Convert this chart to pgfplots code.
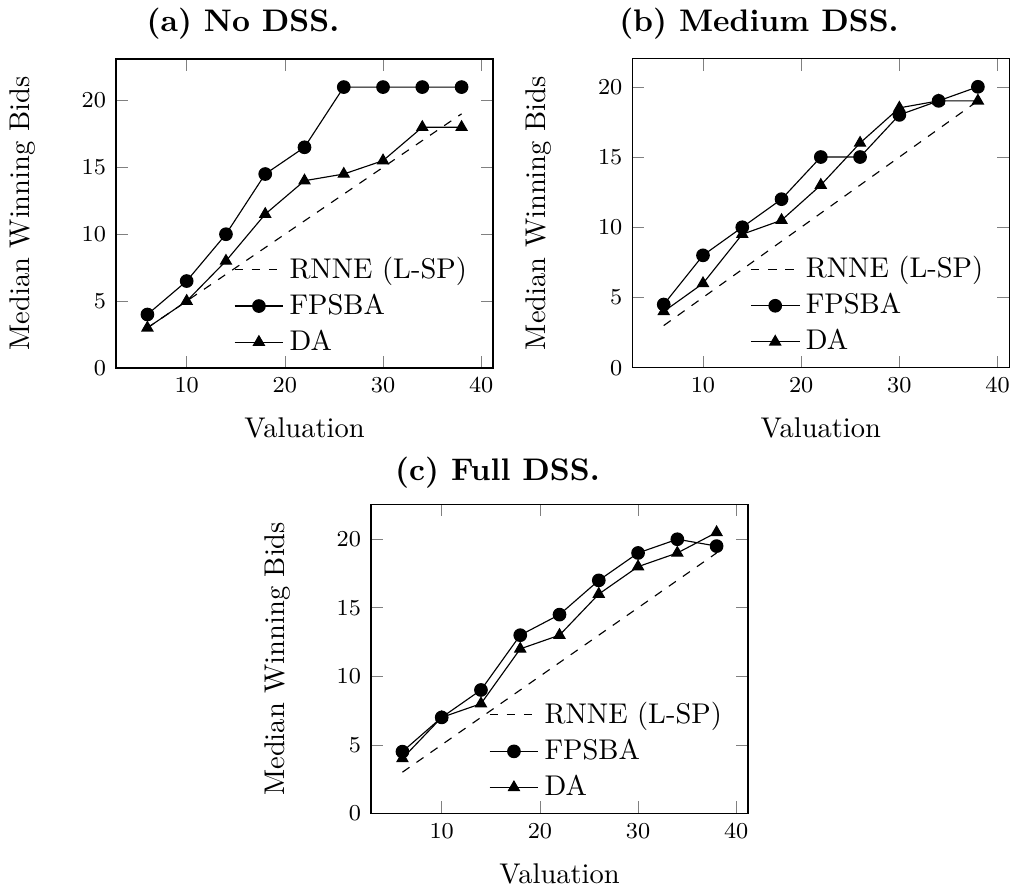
\documentclass[border=0pt]{standalone}
\usepackage{pgfplots}
\pgfplotsset{compat=1.18}
\begin{document}
\begin{tikzpicture}
\pgfplotsset{
  myax/.style={
    scale only axis,
    width=132.28pt, height=108.42pt,
    anchor=south west,
    xmin=2.8, xmax=41.2, ymin=0,
    xtick={10,20,30,40}, ytick={0,5,10,15,20},
    tick label style={font=\footnotesize},
    xlabel={Valuation},
    ylabel={Median Winning Bids},
    ylabel shift=9.5pt,
    xlabel shift=2pt,
    legend style={draw=none, fill=none, at={(0.97,0.005)}, anchor=south east},
    legend cell align=left,
  },
  rnne/.style={black, dashed, no marks},
  fp/.style={black, mark=*, mark size=2.2pt, mark options={solid}},
  da/.style={black, mark=triangle*, mark size=2.2pt, mark options={solid}},
}
% (a)
\begin{axis}[myax, at={(40.70pt,-129.12pt)}, ymax=23.1]
\addplot[rnne] coordinates {(6,3) (10,5) (14,7) (18,9) (22,11) (26,13) (30,15) (34,17) (38,19)};
\addlegendentry{RNNE (L-SP)}
\addplot[fp] coordinates {(6,4) (10,6.5) (14,10) (18,14.5) (22,16.5) (26,21) (30,21) (34,21) (38,21)};
\addlegendentry{FPSBA}
\addplot[da] coordinates {(6,3) (10,5) (14,8) (18,11.5) (22,14) (26,14.5) (30,15.5) (34,18) (38,18)};
\addlegendentry{DA}
\end{axis}
% (b)
\begin{axis}[myax, at={(221.86pt,-129.02pt)}, ymax=22]
\addplot[rnne] coordinates {(6,3) (10,5) (14,7) (18,9) (22,11) (26,13) (30,15) (34,17) (38,19)};
\addlegendentry{RNNE (L-SP)}
\addplot[fp] coordinates {(6,4.5) (10,8) (14,10) (18,12) (22,15) (26,15) (30,18) (34,19) (38,20)};
\addlegendentry{FPSBA}
\addplot[da] coordinates {(6,4) (10,6) (14,9.5) (18,10.5) (22,13) (26,16) (30,18.5) (34,19) (38,19)};
\addlegendentry{DA}
\end{axis}
% (c)
\begin{axis}[myax, at={(130.18pt,-285.37pt)}, ymax=22.55]
\addplot[rnne] coordinates {(6,3) (10,5) (14,7) (18,9) (22,11) (26,13) (30,15) (34,17) (38,19)};
\addlegendentry{RNNE (L-SP)}
\addplot[fp] coordinates {(6,4.5) (10,7) (14,9) (18,13) (22,14.5) (26,17) (30,19) (34,20) (38,19.5)};
\addlegendentry{FPSBA}
\addplot[da] coordinates {(6,4) (10,7) (14,8) (18,12) (22,13) (26,16) (30,18) (34,19) (38,20.5)};
\addlegendentry{DA}
\end{axis}
\node[anchor=base, font=\fontsize{10.95}{13}\selectfont\bfseries] at (85.26pt,-11.23pt) {(a) No DSS.};
\node[anchor=base, font=\fontsize{10.95}{13}\selectfont\bfseries] at (266.3pt,-11.23pt) {(b) Medium DSS.};
\node[anchor=base, font=\fontsize{10.95}{13}\selectfont\bfseries] at (174.56pt,-168.7pt) {(c) Full DSS.};
\pgfresetboundingbox
\useasboundingbox (0,0) rectangle (355.79pt,-312.63pt);
\end{tikzpicture}
\end{document}
